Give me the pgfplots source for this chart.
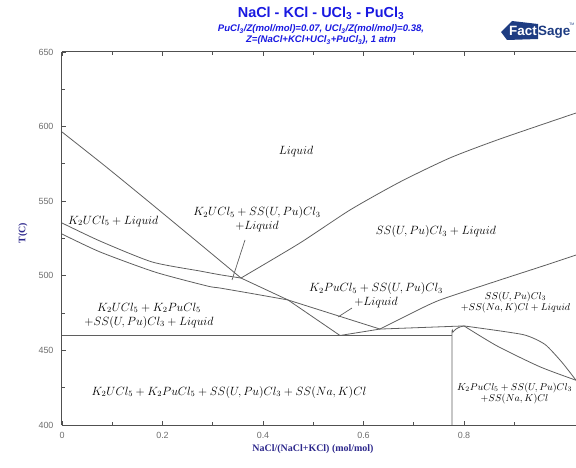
\documentclass[border=0pt]{standalone}
\usepackage{fontspec}
\setmainfont{Liberation Sans}
\newfontfamily\serifbf{Liberation Serif}
\usepackage{pgfplots}
\pgfplotsset{compat=1.18}
\definecolor{titleblue}{RGB}{25,25,225}
\definecolor{labblue}{RGB}{45,40,140}
\definecolor{tickgray}{RGB}{110,110,110}
\definecolor{linegray}{RGB}{95,95,95}
\definecolor{axisgray}{RGB}{80,80,80}
\definecolor{logoblue}{RGB}{30,60,130}
\tikzset{
  lab/.style={font=\fontsize{11.8}{14}\selectfont, align=center, inner sep=0pt},
  slab/.style={font=\fontsize{9.8}{12}\selectfont, align=center, inner sep=0pt},
  pl/.style={linegray, line width=0.8bp},
}
\begin{document}
\begin{tikzpicture}
\path[use as bounding box] (-62bp,-43bp) rectangle (514bp,425bp);
\begin{axis}[at={(0,0)}, anchor=south west, scale only axis,
  width=514bp, height=373bp,
  xmin=0, xmax=1.0229, ymin=400, ymax=650,
  separate axis lines, axis x line*=box, axis y line*=left,
  axis line style={axisgray, line width=1bp},
  xtick={0,0.2,0.4,0.6,0.8}, xticklabels={0,0.2,0.4,0.6,0.8},
  minor xtick={0.1,0.3,0.5,0.7,0.9},
  ytick={400,450,...,650}, minor ytick={425,475,...,625},
  tick align=inside, major tick length=4bp, minor tick length=3bp,
  tick style={axisgray, line width=0.8bp},
  /pgf/number format/assume math mode=true,
  ticklabel style={font=\fontsize{9}{10}\selectfont, text=tickgray},
  xticklabel style={yshift=-4bp},
  yticklabel style={xshift=-5bp},
  clip=true,
]
% K2UCl5 liquidus
\addplot[pl, smooth, tension=0.4] coordinates {(0,596.4)(0.0856,573.6)(0.1711,550.1)(0.2746,521.3)(0.3562,498.5)};
\addplot[pl] coordinates {(0.3562,498.5)(0.4498,483.8)(0.5532,460)};
% upper band
\addplot[pl, smooth, tension=0.4] coordinates {(0,535.4)(0.0756,523.3)(0.1791,509.3)(0.2746,503.2)(0.3144,500.7)(0.3562,498.5)};
% lower band
\addplot[pl, smooth, tension=0.4] coordinates {(0,528.0)(0.0756,516.0)(0.1851,502.5)(0.2886,493.2)(0.3144,491.8)(0.3781,488.1)(0.4498,483.8)};
\addplot[pl] coordinates {(0.4498,483.8)(0.6328,464.3)};
% SS liquidus
\addplot[pl, smooth, tension=0.4] coordinates {(0.3562,498.5)(0.4736,522.0)(0.5731,544.1)(0.6726,562.9)(0.7721,579.0)(0.8716,591.7)(1.0229,609.1)};
% eutectic V right
\addplot[pl] coordinates {(0.5532,460)(0.6328,464.3)};
% rising boundary
\addplot[pl, smooth, tension=0.4] coordinates {(0.6328,464.3)(0.6925,474.4)(0.7522,483.8)(0.8716,497.2)(0.9512,505.9)(1.0229,513.9)};
% solidus to dome
\addplot[pl, smooth, tension=0.4] coordinates {(0.6328,464.3)(0.7124,465.3)(0.8,466.4)};
% 460 line
\addplot[pl] coordinates {(0,460)(0.7761,460)};
% vertical and dome
\addplot[pl, smooth, tension=0.4] coordinates {(0.7761,400)(0.7761,460)(0.7781,462.3)(0.7841,464.3)(0.7920,465.7)(0.8,466.4)};
% right upper
\addplot[pl, smooth, tension=0.35] coordinates {(0.8,466.4)(0.9174,460.6)(0.9612,454.0)(0.9950,442.0)(1.0229,430.0)};
% right lower
\addplot[pl, smooth, tension=0.4] coordinates {(0.8,466.4)(0.8657,453.0)(0.9512,439.0)(1.0229,430.0)};
% pointers
\addplot[linegray, line width=0.7bp] coordinates {(0.3642,524.0)(0.3383,497.2)};
\addplot[linegray, line width=0.7bp] coordinates {(0.5771,478.4)(0.5493,472.4)};
% labels
\node[lab] at (axis cs:0.4657,583.0) {$Liquid$};
\node[lab, anchor=west] at (axis cs:0.0119,536.7) {$K_2UCl_5 + Liquid$};
\node[lab] at (axis cs:0.388,538.1) {$K_2UCl_5 + SS(U,Pu)Cl_3$\\$+Liquid$};
\node[lab] at (axis cs:0.744,529.4) {$SS(U,Pu)Cl_3 + Liquid$};
\node[lab] at (axis cs:0.625,486.8) {$K_2PuCl_5 + SS(U,Pu)Cl_3$\\$+Liquid$};
\node[slab] at (axis cs:0.9025,482.1) {$SS(U,Pu)Cl_3$\\$+SS(Na,K)Cl + Liquid$};
\node[lab] at (axis cs:0.1731,473.4) {$K_2UCl_5 + K_2PuCl_5$\\$+SS(U,Pu)Cl_3 + Liquid$};
\node[lab] at (axis cs:0.3323,422.1) {$K_2UCl_5 + K_2PuCl_5 + SS(U,Pu)Cl_3 + SS(Na,K)Cl$};
\node[slab] at (axis cs:0.9005,421.1) {$K_2PuCl_5 + SS(U,Pu)Cl_3$\\$+SS(Na,K)Cl$};
\end{axis}
% titles
\node[font=\bfseries\fontsize{14.5}{16}\selectfont, text=titleblue] at (259bp,412bp) {NaCl - KCl - UCl\textsubscript{3} - PuCl\textsubscript{3}};
\node[font=\bfseries\itshape\fontsize{9.6}{11}\selectfont, text=titleblue, align=center] at (259bp,390bp) {PuCl\textsubscript{3}/Z(mol/mol)=0.07, UCl\textsubscript{3}/Z(mol/mol)=0.38,\\Z=(NaCl+KCl+UCl\textsubscript{3}+PuCl\textsubscript{3}), 1 atm};
% axis labels
\node[font=\serifbf\bfseries\fontsize{10}{12}\selectfont, text=labblue] at (251bp,-24bp) {NaCl/(NaCl+KCl) (mol/mol)};
\node[font=\serifbf\bfseries\fontsize{10}{12}\selectfont, text=labblue, rotate=90] at (-39bp,192bp) {T(C)};
% logo
\fill[logoblue] (439bp,393bp) -- (450bp,404bp) -- (476bp,401bp) -- (476bp,386bp) -- (445bp,385bp) -- cycle;
\node[text=white, font=\bfseries\fontsize{13.5}{13.5}\selectfont, inner sep=0pt, anchor=base west] at (447bp,389bp) {Fact};
\node[text=logoblue, font=\bfseries\fontsize{13.5}{13.5}\selectfont, inner sep=0pt, anchor=base west] at (476bp,389bp) {Sage};
\node[text=logoblue, font=\fontsize{3.5}{3.5}\selectfont, inner sep=0pt, anchor=east] at (512.5bp,401bp) {TM};
\end{tikzpicture}
\end{document}
